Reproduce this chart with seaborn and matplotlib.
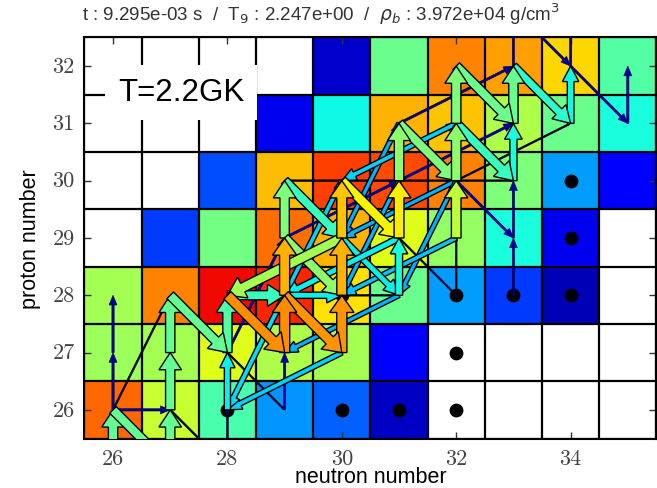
import numpy as np
import pandas as pd
import matplotlib
matplotlib.use("Agg")
import matplotlib.pyplot as plt
import seaborn as sns

# ---- abundance map (log-scaled, normalised to 0..1; NaN = not populated) ----
neutrons = [26, 27, 28, 29, 30, 31, 32, 33, 34, 35]
protons = [32, 31, 30, 29, 28, 27, 26]          # rows, top to bottom
nan = np.nan
abund_z32 = [nan, nan, nan, nan, 0.07, 0.48, 0.77, 0.74, 0.68, 0.45]
abund_z31 = [nan, nan, nan, 0.10, 0.37, 0.72, 0.70, 0.56, 0.48, 0.38]
abund_z30 = [nan, nan, 0.20, 0.71, 0.84, 0.83, 0.77, 0.50, 0.28, 0.12]
abund_z29 = [nan, 0.18, 0.49, 0.79, 0.72, 0.62, 0.53, 0.38, 0.10, nan]
abund_z28 = [0.55, 0.77, 0.90, 0.87, 0.67, 0.48, 0.28, 0.18, 0.05, nan]
abund_z27 = [0.54, 0.55, 0.62, 0.56, 0.55, 0.12, nan, nan, nan, nan]
abund_z26 = [0.80, 0.59, 0.44, 0.27, 0.22, 0.06, nan, nan, nan, nan]

# stable isotopes (N, Z)
stable_n = [28, 30, 31, 32, 32, 30, 32, 33, 34, 34, 34]
stable_z = [26, 26, 26, 26, 27, 28, 28, 28, 28, 29, 30]

# ---- reaction flows: (N, Z of target, normalised flow) per channel ----
p_gamma = [(26, 25, 0.47), (27, 25, 0.47), (27, 26, 0.47), (27, 27, 0.47),
           (26, 26, 0.03), (26, 27, 0.03), (28, 25, 0.0), (28, 26, 0.36),
           (28, 27, 0.45), (29, 26, 0.03), (29, 27, 0.76), (29, 28, 0.72),
           (29, 29, 0.50), (30, 27, 0.75), (30, 28, 0.72), (30, 29, 0.70),
           (31, 28, 0.38), (31, 29, 0.66), (31, 30, 0.52), (32, 28, 0.0),
           (32, 29, 0.58), (32, 30, 0.52), (32, 31, 0.50), (33, 28, 0.03),
           (33, 29, 0.04), (33, 30, 0.38), (33, 31, 0.48), (33, 32, 0.04),
           (34, 31, 0.37), (34, 32, 0.04), (35, 31, 0.04)]
beta_plus = [(26, 26, 0.47), (27, 26, 0.0), (27, 28, 0.47), (28, 27, 0.0),
             (28, 28, 0.76), (29, 28, 0.75), (29, 29, 0.52), (29, 30, 0.42),
             (30, 29, 0.36), (30, 30, 0.65), (31, 29, 0.0), (31, 31, 0.50),
             (32, 30, 0.04), (32, 31, 0.42), (32, 32, 0.48), (33, 32, 0.40),
             (33, 33, 0.03), (34, 32, 0.03)]
p_alpha = [(30, 29, 0.55), (32, 31, 0.33), (31, 29, 0.36), (30, 27, 0.33),
           (31, 28, 0.30), (32, 29, 0.32), (32, 30, 0.30)]
n_alpha = [(29, 28, 0.34), (30, 30, 0.33), (31, 30, 0.30), (31, 31, 0.30),
           (32, 30, 0.30)]
alpha_p = [(28, 28, 0.03), (29, 29, 0.03), (30, 30, 0.03), (29, 28, 0.03),
           (31, 30, 0.03), (30, 29, 0.03), (32, 30, 0.0), (31, 31, 0.03)]
alpha_n = [(26, 26, 0.0), (28, 27, 0.03), (29, 28, 0.03), (30, 29, 0.03)]
n_gamma = [(26, 26, 0.03), (28, 28, 0.42), (29, 28, 0.36), (30, 28, 0.0),
           (29, 30, 0.0), (30, 30, 0.0), (31, 30, 0.0), (32, 30, 0.0)]

channels = [(p_gamma, 0, 1), (beta_plus, 1, -1), (p_alpha, -2, -1),
            (n_alpha, -1, -2), (alpha_p, 2, 1), (alpha_n, 1, 2),
            (n_gamma, 1, 0)]

title = (r"t : 9.295e-03 s  /  T$_9$ : 2.247e+00  /  "
         r"$\rho_b$ : 3.972e+04 g/cm$^3$")

# ---- figure ----
fig = plt.figure(figsize=(6.57, 4.89), dpi=100)
ax = fig.add_axes([0.1285, 0.1012, 0.8706, 0.8202])

grid = pd.DataFrame([abund_z32, abund_z31, abund_z30, abund_z29,
                     abund_z28, abund_z27, abund_z26],
                    index=protons, columns=neutrons)
sns.heatmap(grid, ax=ax, cmap="jet", vmin=0, vmax=1, cbar=False)
ax.set_facecolor("white")

ncol, nrow = len(neutrons), len(protons)
for i in range(ncol + 1):
    ax.axvline(i, color="black", lw=1.6, zorder=2)
for j in range(nrow + 1):
    ax.axhline(j, color="black", lw=1.6, zorder=2)


def to_xy(n, z):
    return n - neutrons[0] + 0.5, protons[0] - z + 0.5


# stable nuclei
sx, sy = zip(*[to_xy(n, z) for n, z in zip(stable_n, stable_z)])
ax.scatter(sx, sy, s=80, color="black", zorder=3)

# reaction flow arrows, weakest first
cmap = matplotlib.colormaps["jet"]
flows = []
for lst, dn, dz in channels:
    for n, z, f in lst:
        flows.append((f, n, z, dn, dz))
flows.sort(key=lambda t: t[0])

for f, n, z, dn, dz in flows:
    x0, y0 = to_xy(n, z)
    dx, dy = dn, -dz
    if f < 0.15:
        color = "black" if f < 0.02 else cmap(f)
        w, hw, hl = 0.04, 0.14, 0.17
        if f < 0.02:
            w, hw, hl = 0.03, 0.04, 0.05
        ax.arrow(x0, y0, dx, dy, width=w, head_width=hw, head_length=hl,
                 length_includes_head=True, fc=color, ec="#000040", lw=0.4,
                 zorder=4)
    else:
        w = np.interp(f, [0.25, 0.34, 0.42, 0.8], [0.07, 0.09, 0.16, 0.18])
        hw = 2.3 * w + 0.02
        hl = np.interp(f, [0.25, 0.42], [0.2, 0.3])
        ax.arrow(x0, y0, dx, dy, width=w, head_width=hw, head_length=hl,
                 length_includes_head=True, fc=cmap(f), ec="black", lw=1.0,
                 zorder=5)

ax.set_xlim(0, ncol)
ax.set_ylim(nrow, 0)

xt = [26, 28, 30, 32, 34]
ax.set_xticks([to_xy(n, 30)[0] for n in xt])
ax.set_xticklabels([str(n) for n in xt], rotation=0)
ax.set_yticks([to_xy(26, z)[1] for z in protons])
ax.set_yticklabels([str(z) for z in protons], rotation=0)
for lab in ax.get_xticklabels() + ax.get_yticklabels():
    lab.set_fontfamily("cmr10")
    lab.set_fontsize(16)
    lab.set_color("#444444")
ax.tick_params(direction="in", top=True, right=True, length=5, width=1,
               pad=7, color="#333333")

for s in ax.spines.values():
    s.set_visible(True)
    s.set_linewidth(1.5)
    s.set_color("black")

ax.set_xlabel("neutron number", fontsize=15.5, family="Liberation Sans",
              labelpad=-1)
ax.set_ylabel("proton number", fontsize=15.5, family="Liberation Sans",
              labelpad=8)

fig.text(0.489, 1 - 14 / 489, title, ha="center", va="center",
         fontsize=13.5, family="Liberation Sans", color="#333333")
fig.text(181 / 657, 1 - 93 / 489, "T=2.2GK", ha="center", va="center",
         fontsize=22.5, family="Liberation Sans", color="black",
         bbox=dict(boxstyle="square,pad=0.4", fc="white", ec="none"))

fig.savefig("out.png", dpi=100)
